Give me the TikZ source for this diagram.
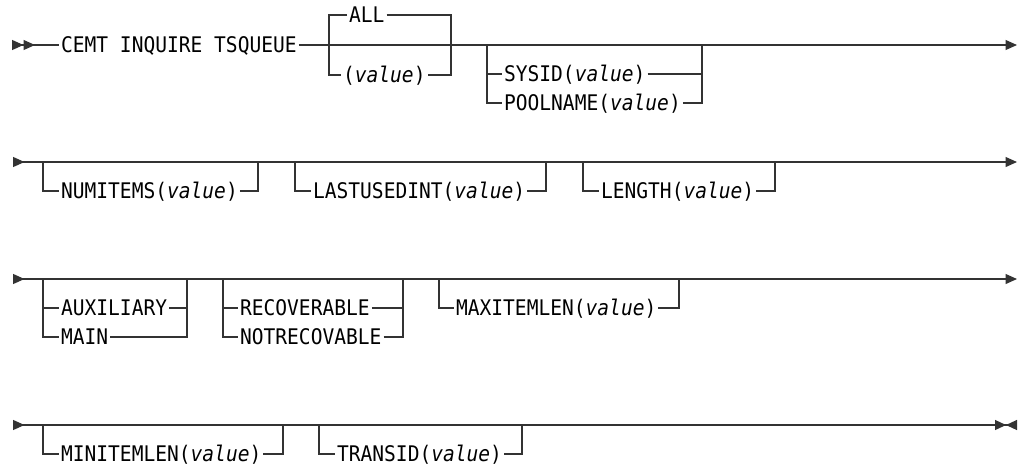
\documentclass[tikz,border=0pt]{standalone}
\usepackage{fontspec}
\newfontfamily\synfont{DejaVu Sans Mono}[FakeStretch=0.91]
\usetikzlibrary{arrows.meta}
\newcommand{\val}{\textit{value}}

\begin{document}
\begin{tikzpicture}[x=1pt, y=-1pt, line width=1.2pt, font=\synfont\fontsize{21.5pt}{25pt}\selectfont]
  \tikzset{kw/.style={anchor=west, inner xsep=1.5pt, inner ysep=0pt, text height=15.7pt, text depth=0pt, text=black},
    rail/.style={draw=black!80},
    rowone/.style={rail, arrows={Triangle[reversed,length=11.5pt,width=10pt] Triangle[reversed,length=11.5pt,width=10pt]-}},
    rowout/.style={rail, arrows={-Triangle[length=11.5pt,width=10pt]}},
    rowinout/.style={rail, arrows={Triangle[reversed,length=11.5pt,width=10pt]-Triangle[length=11.5pt,width=10pt]}},
    rowlast/.style={rail, arrows={Triangle[reversed,length=11.5pt,width=10pt]-Triangle[length=11pt,width=10pt] Triangle[reversed,length=11pt,width=10pt]}}}
  \useasboundingbox (0,0) rectangle (1022,467);

  % row 1
  \coordinate (r1a) at (12,45);
  \coordinate (r1b) at (1017,45);
  \node[kw] (cmd) at (59,45) {CEMT INQUIRE TSQUEUE};
  \draw[rowone] (r1a) -- (cmd.west);
  \draw[rowout] (cmd.east) -- (r1b);
  \coordinate (alll) at (329,45);
  \coordinate (allr) at (451,45);
  \node[kw] (all) at (347,15) {ALL};
  \node[kw] (value) at (341,75) {(\val)};
  \draw[rail] (all.west) -| (alll) |- (value.west);
  \draw[rail] (all.east) -| (allr) |- (value.east);
  \coordinate (sysl) at (487,45);
  \coordinate (sysr) at (702,45);
  \node[kw] (sysid) at (502,74) {SYSID(\val)};
  \node[kw] (pool) at (502,103) {POOLNAME(\val)};
  \draw[rail] (sysl) |- (pool.west);
  \draw[rail] (sysl |- sysid.west) -- (sysid.west);
  \draw[rail] (pool.east) -| (sysr);
  \draw[rail] (sysid.east) -- (sysr |- sysid.east);

  % row 2
  \coordinate (r2a) at (13,162);
  \coordinate (r2b) at (1017,162);
  \draw[rowinout] (r2a) -- (r2b);
  \coordinate (numl) at (43,162);
  \coordinate (numr) at (258,162);
  \node[kw] (numitems) at (59,191) {NUMITEMS(\val)};
  \draw[rail] (numl) |- (numitems.west);
  \draw[rail] (numitems.east) -| (numr);
  \coordinate (lastl) at (295,162);
  \coordinate (lastr) at (546,162);
  \node[kw] (lastused) at (311,191) {LASTUSEDINT(\val)};
  \draw[rail] (lastl) |- (lastused.west);
  \draw[rail] (lastused.east) -| (lastr);
  \coordinate (lenl) at (583,162);
  \coordinate (lenr) at (775,162);
  \node[kw] (length) at (599,191) {LENGTH(\val)};
  \draw[rail] (lenl) |- (length.west);
  \draw[rail] (length.east) -| (lenr);

  % row 3
  \coordinate (r3a) at (13,279);
  \coordinate (r3b) at (1017,279);
  \draw[rowinout] (r3a) -- (r3b);
  \coordinate (auxl) at (43,279);
  \coordinate (auxr) at (187,279);
  \node[kw] (aux) at (59,308) {AUXILIARY};
  \node[kw] (main) at (59,337) {MAIN};
  \draw[rail] (auxl) |- (main.west);
  \draw[rail] (auxl |- aux.west) -- (aux.west);
  \draw[rail] (main.east) -| (auxr);
  \draw[rail] (aux.east) -- (auxr |- aux.east);
  \coordinate (recl) at (223,279);
  \coordinate (recr) at (403,279);
  \node[kw] (recov) at (238,308) {RECOVERABLE};
  \node[kw] (notrecov) at (238,337) {NOTRECOVABLE};
  \draw[rail] (recl) |- (notrecov.west);
  \draw[rail] (recl |- recov.west) -- (recov.west);
  \draw[rail] (notrecov.east) -| (recr);
  \draw[rail] (recov.east) -- (recr |- recov.east);
  \coordinate (maxl) at (439,279);
  \coordinate (maxr) at (679,279);
  \node[kw] (maxitem) at (454,308) {MAXITEMLEN(\val)};
  \draw[rail] (maxl) |- (maxitem.west);
  \draw[rail] (maxitem.east) -| (maxr);

  % row 4
  \coordinate (r4a) at (13,425);
  \coordinate (r4b) at (1017,425);
  \draw[rowlast] (r4a) -- (r4b);
  \coordinate (minl) at (43,425);
  \coordinate (minr) at (283,425);
  \node[kw] (minitem) at (59,454) {MINITEMLEN(\val)};
  \draw[rail] (minl) |- (minitem.west);
  \draw[rail] (minitem.east) -| (minr);
  \coordinate (tranl) at (319,425);
  \coordinate (tranr) at (522,425);
  \node[kw] (transid) at (335,454) {TRANSID(\val)};
  \draw[rail] (tranl) |- (transid.west);
  \draw[rail] (transid.east) -| (tranr);
\end{tikzpicture}
\end{document}
